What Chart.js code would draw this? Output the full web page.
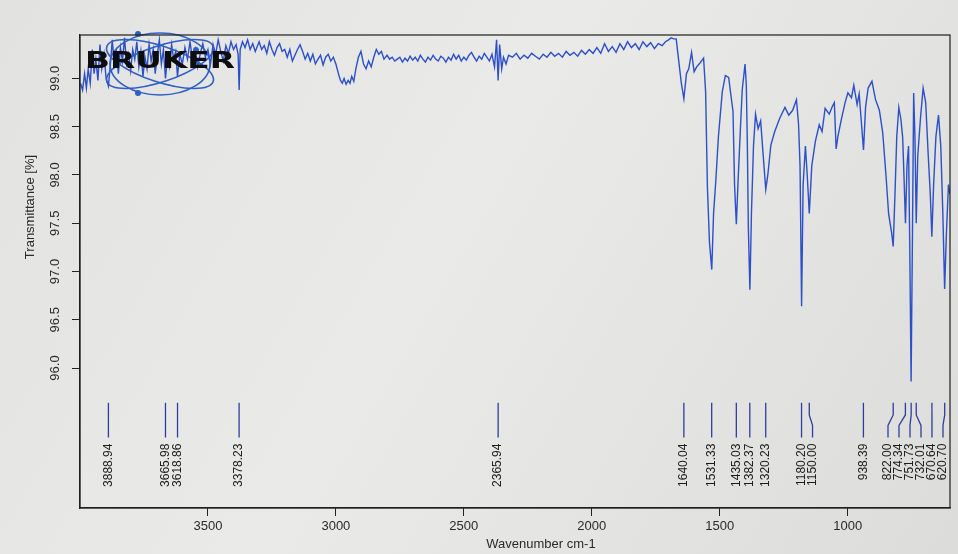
<!DOCTYPE html>
<html>
<head>
<meta charset="utf-8">
<script src="https://cdn.jsdelivr.net/npm/chart.js@4.4.1/dist/chart.umd.min.js"></script>
<style>
  html, body { margin: 0; padding: 0; background: #e5e5e4; }
  #wrap { width: 958px; height: 554px; }
</style>
</head>
<body>
<div id="wrap"><canvas id="irChart"></canvas></div>
<script>
// IR spectrum: wavenumber (cm-1) / transmittance (%)
const wavenumbers = [
  3998, 3990, 3982, 3975, 3968, 3960, 3952, 3945, 3938, 3930,
  3922, 3915, 3906, 3898, 3889, 3882, 3874, 3866, 3858, 3850,
  3842, 3834, 3826, 3818, 3810, 3802, 3794, 3786, 3778, 3770,
  3762, 3754, 3746, 3738, 3730, 3722, 3714, 3706, 3698, 3690,
  3682, 3674, 3666, 3658, 3650, 3642, 3634, 3626, 3619, 3610,
  3600, 3590, 3580, 3570, 3560, 3550, 3540, 3530, 3520, 3510,
  3500, 3490, 3480, 3470, 3460, 3450, 3440, 3430, 3420, 3410,
  3400, 3390, 3382, 3378, 3374, 3365, 3355, 3345, 3335, 3325,
  3315, 3300, 3290, 3280, 3270, 3260, 3250, 3240, 3230, 3220,
  3210, 3200, 3190, 3180, 3170, 3160, 3150, 3140, 3130, 3120,
  3110, 3100, 3090, 3080, 3070, 3060, 3050, 3040, 3030, 3020,
  3010, 3000, 2990, 2982, 2975, 2968, 2960, 2952, 2945, 2938,
  2930, 2922, 2912, 2902, 2892, 2882, 2872, 2862, 2852, 2842,
  2832, 2822, 2812, 2800, 2790, 2780, 2770, 2760, 2750, 2740,
  2730, 2720, 2710, 2700, 2690, 2680, 2670, 2660, 2650, 2640,
  2630, 2620, 2610, 2600, 2590, 2580, 2570, 2560, 2550, 2540,
  2530, 2520, 2510, 2500, 2490, 2480, 2470, 2460, 2450, 2440,
  2430, 2420, 2410, 2400, 2390, 2380, 2372, 2366, 2360, 2352,
  2345, 2335, 2325, 2310, 2295, 2280, 2265, 2250, 2235, 2220,
  2205, 2190, 2175, 2160, 2145, 2130, 2115, 2100, 2085, 2070,
  2055, 2040, 2025, 2010, 1995, 1980, 1965, 1950, 1935, 1920,
  1905, 1890, 1875, 1860, 1845, 1830, 1815, 1800, 1785, 1770,
  1755, 1740, 1725, 1712, 1700, 1690, 1680, 1670, 1660, 1650,
  1640, 1630, 1621, 1610, 1600, 1590, 1577, 1563, 1555, 1548,
  1540, 1531, 1524, 1515, 1505, 1490, 1478, 1465, 1455, 1448,
  1442, 1435, 1428, 1420, 1412, 1401, 1396, 1392, 1388, 1382,
  1376, 1368, 1360, 1350, 1340, 1330, 1320, 1312, 1300, 1285,
  1265, 1245, 1230, 1215, 1200, 1192, 1186, 1180, 1174, 1165,
  1158, 1150, 1140, 1126, 1111, 1100, 1088, 1072, 1060, 1052,
  1045, 1038, 1025, 1010, 999, 985, 976, 963, 955, 948,
  938, 930, 920, 905, 891, 876, 863, 850, 840, 828,
  822, 815, 808, 800, 792, 785, 780, 774, 768, 762,
  757, 752, 747, 742, 737, 732, 726, 715, 705, 695,
  685, 677, 671, 664, 655, 645, 636, 628, 621, 614,
  606, 600
];
const transmittance = [
  98.95, 98.88, 99.05, 98.90, 99.10, 98.95, 99.30, 99.05, 99.20, 98.98,
  99.35, 99.10, 99.25, 99.00, 98.92, 99.12, 99.40, 99.15, 99.28, 99.05,
  99.32, 99.18, 99.42, 99.15, 99.25, 99.08, 99.30, 99.20, 99.38, 99.12,
  99.28, 99.02, 99.22, 99.10, 99.35, 99.18, 99.30, 99.05, 99.25, 99.40,
  99.15, 99.30, 99.00, 99.22, 99.12, 99.35, 99.20, 99.28, 99.02, 99.25,
  99.15, 99.32, 99.20, 99.38, 99.18, 99.30, 99.12, 99.26, 99.36, 99.22,
  99.30, 99.15, 99.35, 99.25, 99.40, 99.28, 99.18, 99.34, 99.26, 99.38,
  99.30, 99.35, 99.25, 98.88, 99.30, 99.38, 99.32, 99.40, 99.30, 99.36,
  99.28, 99.38, 99.30, 99.34, 99.26, 99.38, 99.30, 99.24, 99.32, 99.36,
  99.28, 99.30, 99.22, 99.30, 99.18, 99.24, 99.30, 99.35, 99.28, 99.20,
  99.26, 99.18, 99.25, 99.15, 99.20, 99.24, 99.14, 99.22, 99.25, 99.18,
  99.22, 99.15, 99.05, 98.98, 98.95, 99.00, 98.94, 98.98, 98.95, 99.02,
  98.97, 99.10, 99.22, 99.28, 99.15, 99.10, 99.18, 99.12, 99.22, 99.30,
  99.25, 99.28, 99.20, 99.24, 99.20, 99.22, 99.18, 99.20, 99.22, 99.17,
  99.21, 99.18, 99.23, 99.19, 99.22, 99.18, 99.24, 99.20, 99.17, 99.22,
  99.19, 99.24, 99.20, 99.18, 99.23, 99.21, 99.17, 99.22, 99.19, 99.25,
  99.20, 99.24, 99.18, 99.22, 99.19, 99.24, 99.27, 99.22, 99.18, 99.23,
  99.20, 99.26, 99.22, 99.18, 99.25, 99.12, 99.40, 98.98, 99.35, 99.10,
  99.22, 99.15, 99.24, 99.22, 99.26, 99.20, 99.24, 99.21, 99.26, 99.23,
  99.20, 99.25, 99.22, 99.27, 99.23, 99.26, 99.22, 99.28, 99.24, 99.27,
  99.23, 99.29, 99.25, 99.30, 99.26, 99.32, 99.26, 99.36, 99.28, 99.33,
  99.27, 99.36, 99.30, 99.38, 99.32, 99.36, 99.30, 99.38, 99.33, 99.37,
  99.31, 99.36, 99.34, 99.38, 99.40, 99.42, 99.41, 99.41, 99.18, 98.95,
  98.79, 99.05, 99.10, 99.27, 99.07, 99.12, 99.16, 99.21, 98.86, 97.87,
  97.30, 97.02, 97.60, 97.95, 98.40, 98.86, 99.03, 99.01, 98.80, 98.66,
  97.90, 97.49, 97.95, 98.43, 98.88, 99.15, 98.93, 98.32, 97.44, 96.81,
  97.60, 98.30, 98.63, 98.48, 98.56, 98.20, 97.85, 98.00, 98.31, 98.45,
  98.59, 98.70, 98.62, 98.67, 98.78, 98.53, 98.09, 96.64, 97.90, 98.30,
  98.00, 97.60, 98.10, 98.35, 98.52, 98.45, 98.69, 98.63, 98.71, 98.75,
  98.27, 98.40, 98.57, 98.75, 98.85, 98.80, 98.93, 98.73, 98.84, 98.60,
  98.26, 98.70, 98.90, 98.97, 98.78, 98.67, 98.44, 97.99, 97.60, 97.40,
  97.26, 97.80, 98.40, 98.70, 98.58, 98.39, 98.00, 97.50, 98.10, 98.30,
  97.20, 95.86, 97.30, 98.85, 98.40, 97.50, 98.20, 98.60, 98.90, 98.75,
  98.20, 97.80, 97.36, 97.90, 98.40, 98.62, 98.30, 97.60, 96.82, 97.40,
  97.90, 97.80
];

// peak picking table printed under the trace
const peakPositions = [3888.94, 3665.98, 3618.86, 3378.23, 2365.94, 1640.04, 1531.33, 1435.03,
  1382.37, 1320.23, 1180.20, 1150.00, 938.39, 822.00, 774.34, 751.73, 732.01, 670.64, 620.70];
const peakLabels = peakPositions.map(v => v.toFixed(2));

const xTicks = [3500, 3000, 2500, 2000, 1500, 1000];
const yTicks = [96.0, 96.5, 97.0, 97.5, 98.0, 98.5, 99.0];

const FONT = '"Liberation Sans", Arial, sans-serif';

const paperPlugin = {
  id: 'paper',
  beforeDraw(chart) {
    const { ctx, width, height } = chart;
    const g = ctx.createLinearGradient(0, 0, width, height);
    g.addColorStop(0, '#e2e2e1');
    g.addColorStop(0.45, '#eaeae9');
    g.addColorStop(1, '#dcdcdb');
    ctx.save();
    ctx.fillStyle = g;
    ctx.fillRect(0, 0, width, height);
    ctx.restore();
  }
};

const framePlugin = {
  id: 'frame',
  afterDraw(chart) {
    const { ctx, chartArea: a } = chart;
    ctx.save();
    ctx.strokeStyle = '#1e1e1e';
    ctx.lineWidth = 1.2;
    ctx.strokeRect(a.left, a.top, a.right - a.left, a.bottom - a.top);
    ctx.restore();
  }
};

// vertical peak markers with rotated wavenumber labels
const peakPlugin = {
  id: 'peaks',
  afterDatasetsDraw(chart) {
    const { ctx, chartArea, scales: { x, y } } = chart;
    const top = y.getPixelForValue(95.64);
    const bottom = y.getPixelForValue(95.28);
    const h = bottom - top;
    const pts = peakPositions.map((w, i) => ({ px: x.getPixelForValue(w), text: peakLabels[i] }))
      .sort((a, b) => a.px - b.px);
    const gap = 11;
    pts.forEach((p, i) => { p.lx = i ? Math.max(p.px, pts[i - 1].lx + gap) : p.px; });
    for (let i = pts.length - 1; i >= 0; i--) {
      const lim = i === pts.length - 1 ? chartArea.right - 7 : pts[i + 1].lx - gap;
      if (pts[i].lx > lim) pts[i].lx = lim;
    }
    ctx.save();
    ctx.strokeStyle = '#2c3f9c';
    ctx.lineWidth = 1.3;
    pts.forEach(p => {
      ctx.beginPath();
      ctx.moveTo(p.px, top);
      if (Math.abs(p.lx - p.px) > 0.5) {
        ctx.lineTo(p.px, top + h * 0.35);
        ctx.lineTo(p.lx, top + h * 0.65);
      }
      ctx.lineTo(p.lx, bottom);
      ctx.stroke();
    });
    ctx.fillStyle = '#1c1c1c';
    ctx.font = '12px ' + FONT;
    ctx.textAlign = 'right';
    ctx.textBaseline = 'middle';
    pts.forEach(p => {
      ctx.save();
      ctx.translate(p.lx, bottom + 6);
      ctx.rotate(-Math.PI / 2);
      ctx.fillText(p.text, 0, 0);
      ctx.restore();
    });
    ctx.restore();
  }
};

// vendor logo printed in the top-left corner of the plot
const logoPlugin = {
  id: 'logo',
  afterDatasetsDraw(chart) {
    const { ctx, chartArea: a } = chart;
    const cx = a.left + 80, cy = a.top + 29;
    ctx.save();
    ctx.strokeStyle = '#2f5fc4';
    ctx.fillStyle = '#2f5fc4';
    ctx.lineWidth = 1.6;
    [[0.32, 56, 18], [-0.32, 56, 18], [0, 50, 31]].forEach(([rot, rx, ry]) => {
      ctx.beginPath();
      ctx.ellipse(cx, cy, rx, ry, rot, 0, Math.PI * 2);
      ctx.stroke();
    });
    [[cx - 22, cy + 29], [cx - 22, cy - 30], [cx + 36, cy - 14]].forEach(([px, py]) => {
      ctx.beginPath();
      ctx.arc(px, py, 3, 0, Math.PI * 2);
      ctx.fill();
    });
    ctx.fillStyle = '#0d0d0d';
    ctx.font = 'bold 25px "DejaVu Sans", sans-serif';
    ctx.textBaseline = 'middle';
    const w = ctx.measureText('BRUKER').width;
    ctx.translate(a.left + 5, cy - 2);
    ctx.scale(150 / w, 0.9);
    ctx.fillText('BRUKER', 0, 0);
    ctx.restore();
  }
};

const titlePlugin = {
  id: 'axisTitles',
  afterDraw(chart) {
    const { ctx } = chart;
    ctx.save();
    ctx.fillStyle = '#2a2a2a';
    ctx.font = '13px ' + FONT;
    ctx.textAlign = 'center';
    ctx.textBaseline = 'middle';
    ctx.fillText('Wavenumber cm-1', 541, 544);
    ctx.translate(30, 207);
    ctx.rotate(-Math.PI / 2);
    ctx.fillText('Transmittance [%]', 0, 0);
    ctx.restore();
  }
};

const ctx = document.getElementById('irChart').getContext('2d');
const irChart = new Chart(ctx, {
  type: 'line',
  data: {
    datasets: [{
      label: 'Transmittance',
      data: wavenumbers.map((w, i) => ({ x: w, y: transmittance[i] })),
      borderColor: '#2b50c8',
      borderWidth: 1.4,
      pointRadius: 0,
      tension: 0
    }]
  },
  options: {
    responsive: true,
    maintainAspectRatio: false,
    animation: false,
    layout: { padding: { top: 35, right: 8, left: 0, bottom: 0 } },
    plugins: { legend: { display: false }, tooltip: { enabled: false } },
    scales: {
      x: {
        type: 'linear',
        reverse: true,
        min: 600,
        max: 4000,
        afterBuildTicks: s => { s.ticks = xTicks.map(v => ({ value: v })); },
        afterFit: s => { s.height = 46; },
        grid: { drawOnChartArea: false, tickLength: 8, color: '#222' },
        border: { display: true, color: '#222', width: 1.2 },
        ticks: {
          autoSkip: false, maxRotation: 0, minRotation: 0, padding: 3,
          color: '#2a2a2a', font: { family: FONT, size: 13 },
          callback: v => String(v)
        }
      },
      y: {
        min: 94.55,
        max: 99.45,
        afterBuildTicks: s => { s.ticks = yTicks.map(v => ({ value: v })); },
        afterFit: s => { s.width = 80; },
        grid: { drawOnChartArea: false, tickLength: 8, color: '#222' },
        border: { display: true, color: '#222', width: 1.2 },
        ticks: {
          autoSkip: false, minRotation: 90, maxRotation: 90, crossAlign: 'center', padding: 4,
          color: '#2a2a2a', font: { family: FONT, size: 13 },
          callback: v => v.toFixed(1)
        }
      }
    }
  },
  plugins: [paperPlugin, framePlugin, peakPlugin, logoPlugin, titlePlugin]
});
</script>
</body>
</html>
